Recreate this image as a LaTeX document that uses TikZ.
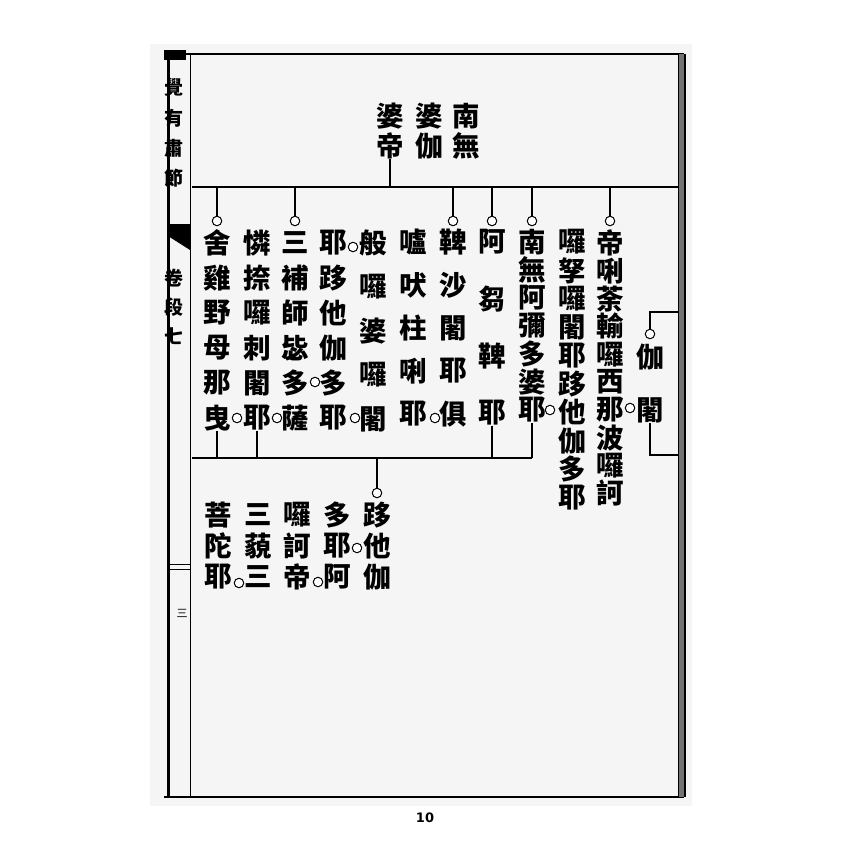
\documentclass[tikz,border=0pt]{standalone}
\usepackage{fontspec}
\newfontfamily\cjk{Noto Sans CJK TC}
\newfontfamily\numfont{DejaVu Sans}
\tikzset{
	glyph/.style={inner sep=0pt, font=\cjk\bfseries\fontsize{27.5}{27.5}\selectfont},
	spine/.style={inner sep=0pt, font=\cjk\bfseries\fontsize{19}{19}\selectfont},
	ring/.style={circle, draw, line width=1pt, fill=white, inner sep=0pt, minimum size=9.5pt},
	rule/.style={line width=1.4pt},
}
\newcommand\glyphcol[5]{%
	\foreach \c [count=\k] in {#5}
	{
		\node[glyph] (#1-\k) at (#2,{#3+(\k-1)*#4}) {\c};
	}
}
\begin{document}
\begin{tikzpicture}[x=1pt,y=-1pt]
		\useasboundingbox (0,0) rectangle (850,850);
		\fill[black!4] (150,44) rectangle (692,806);
		\begin{scope}
		\draw[line width=2.5pt] (164,54) -- (684,54);
		\draw[line width=1.2pt] (164,797) -- (684,797);
		\draw[line width=3pt] (168,54) -- (168,797);
		\draw[line width=0.8pt] (190,54) -- (190,797);
		\draw[line width=6pt, black!55] (681.5,54) -- (681.5,797);
		\draw[line width=1pt] (678,54) -- (678,797);
		\draw[line width=1.5pt] (685,54) -- (685,797);
		\fill (164,50) rectangle (186,60);
		\fill (168,224) -- (190,224) -- (190,250) -- (168,236) -- cycle;
		\draw (168,564) -- (190,564);
		\draw (168,569) -- (190,569);
		\node[glyph, font=\cjk\fontsize{11}{11}\selectfont] (leaf) at (182,613) {三};
		\end{scope}
		\begin{scope}
		\clip (162,62) rectangle (190,360);
		\foreach \c/\y [count=\i] in {覺/87,有/118,肅/148,節/178,卷/278,段/307,七/336}
		{
			\node[spine] (s\i) at (174,\y) {\c};
		}
		\end{scope}
		\glyphcol{t1}{466}{116}{30}{南,無}
		\glyphcol{t2}{429}{116}{30}{婆,伽}
		\glyphcol{t3}{390}{116}{30}{婆,帝}
		\coordinate (topL) at (192,187);
		\coordinate (topR) at (678,187);
		\draw[rule] (topL) -- (topR);
		\draw[rule] (t3-2.south) -- (t3-2.south |- topL);
		\foreach \n/\x in {a/217,b/295,c/453,d/492,e/532,f/610}
		{
			\node[ring] (r\n) at (\x,221) {};
			\draw[rule] (r\n) -- (r\n |- topL);
		}
		\glyphcol{f}{610}{243}{27.8}{帝,唎,荼,輸,囉,西,那,波,囉,訶}
		\glyphcol{g}{572}{242}{28.4}{囉,孥,囉,闍,耶,跢,他,伽,多,耶}
		\glyphcol{e}{532}{242}{28}{南,無,阿,彌,多,婆,耶}
		\glyphcol{d}{492}{242}{57}{阿,芻,鞞,耶}
		\glyphcol{c}{453}{242}{43}{鞞,沙,闍,耶,俱}
		\glyphcol{b}{413}{242}{43}{嚧,吠,柱,唎,耶}
		\glyphcol{h}{373}{243}{44}{般,囉,婆,囉,闍}
		\glyphcol{k}{333}{243}{35}{耶,跢,他,伽,多,耶}
		\glyphcol{m}{295}{243}{35}{三,補,師,毖,多,薩}
		\glyphcol{n}{257}{243}{35}{憐,捺,囉,刺,闍,耶}
		\glyphcol{o}{217}{243}{35}{舍,雞,野,母,那,曳}
		\glyphcol{q}{650}{357}{53}{伽,闍}
		\coordinate (bkA) at (678,312);
		\coordinate (bkB) at (678,455);
		\node[ring] (rq) at (650,334) {};
		\draw[rule] (bkA) -| (rq);
		\draw[rule] (bkB) -| (q-2.south);
		\coordinate (lowL) at (192,458);
		\coordinate (lowR) at (532,458);
		\draw[rule] (lowL) -- (lowR);
		\foreach \c in {o-6,n-6,d-4,e-7}
		{
			\draw[rule] (\c.south) -- (\c.south |- lowL);
		}
		\node[ring] (rl) at (377,493) {};
		\draw[rule] (rl) -- (rl |- lowL);
		\glyphcol{u}{377}{515}{31}{跢,他,伽}
		\glyphcol{v}{337}{515}{31}{多,耶,阿}
		\glyphcol{w}{297}{515}{31}{囉,訶,帝}
		\glyphcol{x}{258}{515}{31}{三,藐,三}
		\glyphcol{y}{218}{515}{31}{菩,陀,耶}
		\foreach \x/\y [count=\i] in {630/408,550/410,435/418,353/247,315/382,355/418,237/418,277/418,357/548,318/582,239/583}
		{
			\node[ring] (p\i) at (\x,\y) {};
		}
		\node[font=\numfont\bfseries\fontsize{13}{13}\selectfont] (pnum) at (425,818) {10};
\end{tikzpicture}
\end{document}
